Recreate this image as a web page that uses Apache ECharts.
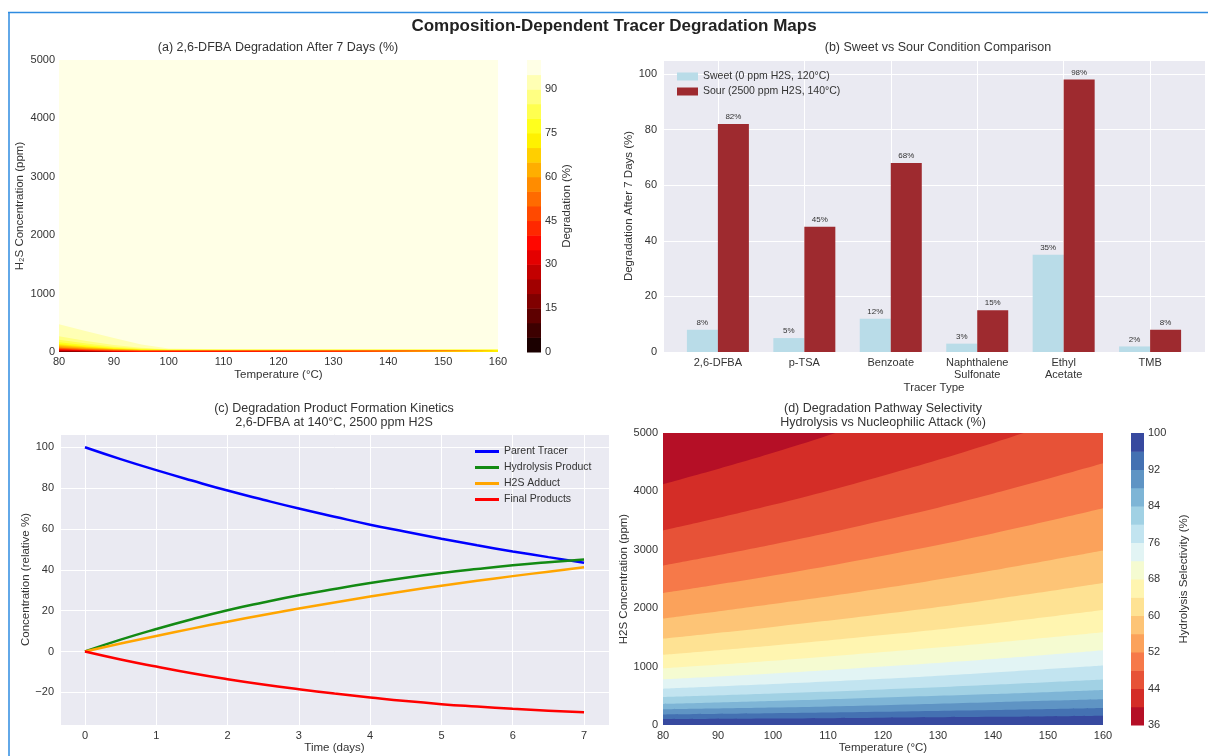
<!DOCTYPE html>
<html><head><meta charset="utf-8">
<script src="https://cdn.jsdelivr.net/npm/echarts@6/dist/echarts.min.js"></script>
<style>html,body{margin:0;padding:0;background:#fff;}#c{width:1208px;height:756px;}</style>
</head><body><div id="c"></div>
<script>
// ---------- Panel (a): 2,6-DFBA degradation contour boundaries (H2S ppm at each temperature) ----------
const aTemps = [80, 85, 90, 95, 100, 110, 160];
const aLevels = [95, 90, 85, 80, 75, 70, 65, 60, 55, 50, 45, 40, 35, 30, 25, 20];
const a95 = [476, 355, 240, 130, 60, 46, 46];
const a90 = [268, 190, 120, 72, 47, 43, 43];
const a85 = [208, 145, 92, 58, 42, 40, 40];
const a80 = [167, 115, 74, 48, 39, 38, 38];
const a75 = [137, 94, 62, 41, 36, 36, 36];
const a70 = [119, 80, 53, 36, 34, 34, 34];
const a65 = [101, 68, 46, 33, 32, 32, 32];
const a60 = [83, 56, 39, 30, 30, 30, 30];
const a55 = [71, 47, 33, 27, 27, 27, 27];
const a50 = [60, 40, 27, 22, 22, 22, 22];
const a45 = [48, 32, 21, 15, 15, 15, 15];
const a40 = [42, 27, 15, 8, 8, 8, 8];
const a35 = [30, 20, 9, 2, 0, 0, 0];
const a30 = [24, 15, 5, 0, 0, 0, 0];
const a25 = [18, 10, 1, 0, 0, 0, 0];
const a20 = [12, 5, 0, 0, 0, 0, 0];
const aBounds = [a95, a90, a85, a80, a75, a70, a65, a60, a55, a50, a45, a40, a35, a30, a25, a20];
const aColorLevels = [0,5,10,15,20,25,30,35,40,45,50,55,60,65,70,75,80,85,90,95,100];
const aColors = ['#1b0000','#3d0000','#5e0000','#800000','#a10000','#c30000','#e40000','#ff0700','#ff2800','#ff4900',
                 '#ff6b00','#ff8c00','#ffae00','#ffcf00','#fff100','#ffff1d','#ffff4f','#ffff82','#ffffb4','#ffffe6'];

// ---------- Panel (b): sweet vs sour ----------
const bCategories = ['2,6-DFBA', 'p-TSA', 'Benzoate', 'Naphthalene\nSulfonate', 'Ethyl\nAcetate', 'TMB'];
const bSweet = [8, 5, 12, 3, 35, 2];
const bSour = [82, 45, 68, 15, 98, 8];
const bNames = ['Sweet (0 ppm H2S, 120°C)', 'Sour (2500 ppm H2S, 140°C)'];

// ---------- Panel (c): kinetics ----------
const cDays = [0, 0.5, 1, 1.5, 2, 2.5, 3, 3.5, 4, 4.5, 5, 5.5, 6, 6.5, 7];
const cParent = [100, 94.2, 88.8, 83.7, 78.8, 74.3, 70, 66, 62.1, 58.6, 55.2, 52, 49, 46.2, 43.5];
const cHydrolysis = [0, 5.8, 11.0, 15.8, 20.2, 24.0, 27.5, 30.6, 33.5, 36.1, 38.4, 40.4, 42.2, 43.7, 45.0];
const cAdduct = [0, 3.9, 7.6, 11.2, 14.6, 17.9, 21.0, 24.0, 26.9, 29.6, 32.2, 34.6, 36.9, 39.1, 41.3];
const cFinal = [0, -3.9, -7.4, -10.7, -13.6, -16.2, -18.5, -20.6, -22.5, -24.3, -25.8, -27.0, -28.1, -29.0, -29.8];
const cNames = ['Parent Tracer', 'Hydrolysis Product', 'H2S Adduct', 'Final Products'];

// ---------- Panel (d): selectivity contour boundaries ----------
const dTemps = [80, 100, 120, 140, 160];
const dLevels = [40, 44, 48, 52, 56, 60, 64, 68, 72, 76, 80, 84, 88, 92, 96];
const d40 = [4120, 4660, 5280, 5980, 6760];
const d44 = [3330, 3770, 4270, 4830, 5460];
const d48 = [2730, 3090, 3500, 3960, 4480];
const d52 = [2260, 2560, 2900, 3280, 3710];
const d56 = [1820, 2070, 2340, 2650, 2990];
const d60 = [1480, 1680, 1900, 2150, 2430];
const d64 = [1200, 1360, 1540, 1740, 1970];
const d68 = [970, 1100, 1250, 1410, 1590];
const d72 = [780, 880, 1000, 1130, 1280];
const d76 = [620, 700, 790, 900, 1020];
const d80 = [480, 540, 610, 690, 780];
const d84 = [360, 410, 470, 530, 600];
const d88 = [270, 300, 340, 390, 440];
const d92 = [180, 200, 225, 255, 290];
const d96 = [100, 110, 125, 140, 160];
const dBounds = [d40, d44, d48, d52, d56, d60, d64, d68, d72, d76, d80, d84, d88, d92, d96];
const dColorLevels = [36,40,44,48,52,56,60,64,68,72,76,80,84,88,92,96,100];
const dColors = ['#b50f26','#d42d27','#e75237','#f67949','#fba25b','#fdc476','#fee293','#fff5b0',
                 '#f5fbd1','#e2f4f4','#c2e4f0','#a1d1e4','#7eb5d6','#5f94c4','#4471b2','#37499f'];

// ---------- build ----------
const FONT = '"Liberation Sans", Arial, sans-serif';
const TXT = '#333';
const BG = '#eaeaf2';
const chart = echarts.init(document.getElementById('c'), null, {renderer: 'canvas'});

function axisBase(extra) {
  return Object.assign({
    axisLine: {show: false}, axisTick: {show: false},
    nameTextStyle: {color: TXT, fontSize: 11.5, fontFamily: FONT},
    nameLocation: 'middle',
    splitLine: {show: false}
  }, extra);
}
function lab(extra) {
  return Object.assign({color: TXT, fontSize: 11, fontFamily: FONT, formatter: v => String(v)}, extra);
}
const isInt = v => Math.abs(v - Math.round(v)) < 1e-6;

function colorbarSeries(gi, levels, colors) {
  return {
    type: 'custom', xAxisIndex: gi, yAxisIndex: gi, silent: true,
    data: levels.slice(0, -1).map((lo, i) => [0, lo, levels[i + 1]]),
    encode: {x: 0, y: [1, 2]},
    renderItem: function (params, api) {
      const p0 = api.coord([0, api.value(1)]);
      const p1 = api.coord([1, api.value(2)]);
      return {type: 'rect', shape: {x: p0[0], y: p1[1], width: p1[0] - p0[0], height: p0[1] - p1[1] + 0.5},
              style: {fill: colors[params.dataIndex]}};
    }
  };
}

const series = [];
aLevels.forEach((L, k) => {
  series.push({type: 'line', xAxisIndex: 0, yAxisIndex: 0, silent: true, symbol: 'none',
    data: aTemps.map((t, i) => [t, aBounds[k][i]]),
    lineStyle: {width: 0}, areaStyle: {color: aColors[(L - 5) / 5], opacity: 1}});
});
series.push(colorbarSeries(1, aColorLevels, aColors));
const barLabel = {show: true, position: 'top', distance: 3, fontSize: 8, color: TXT, fontFamily: FONT, formatter: p => p.value[1] + '%'};
series.push({type: 'bar', name: bNames[0], xAxisIndex: 2, yAxisIndex: 2, barWidth: 31, barGap: '0%',
  data: bSweet.map((v, i) => [i, v]), itemStyle: {color: '#b9dce8'}, label: barLabel});
series.push({type: 'bar', name: bNames[1], xAxisIndex: 2, yAxisIndex: 2, barWidth: 31, barGap: '0%',
  data: bSour.map((v, i) => [i, v]), itemStyle: {color: '#9e2a2f'}, label: barLabel});
const cSets = [cParent, cHydrolysis, cAdduct, cFinal];
const cCols = ['#0000ff', '#138a13', '#ffa500', '#ff0000'];
cSets.forEach((arr, k) => {
  series.push({type: 'line', name: cNames[k], xAxisIndex: 3, yAxisIndex: 3, symbol: 'none', smooth: true,
    data: cDays.map((t, i) => [t, arr[i]]), lineStyle: {width: 2.5, color: cCols[k]}, itemStyle: {color: cCols[k]}});
});
dLevels.forEach((L, k) => {
  series.push({type: 'line', xAxisIndex: 4, yAxisIndex: 4, silent: true, symbol: 'none', smooth: 0.4,
    data: dTemps.map((t, i) => [t, dBounds[k][i]]),
    lineStyle: {width: 0}, areaStyle: {color: dColors[(L - 36) / 4], opacity: 1}});
});
series.push(colorbarSeries(5, dColorLevels, dColors));

const option = {
  animation: false,
  textStyle: {fontFamily: FONT},
  grid: [
    {left: 59, top: 60, width: 439, height: 292, show: true, backgroundColor: aColors[19], borderWidth: 0},
    {left: 527, top: 60, width: 14, height: 292, show: false},
    {left: 663, top: 60, width: 553, height: 292, show: true, backgroundColor: BG, borderWidth: 0},
    {left: 60, top: 434, width: 549, height: 291, show: true, backgroundColor: BG, borderWidth: 0},
    {left: 663, top: 433, width: 440, height: 292, show: true, backgroundColor: dColors[0], borderWidth: 0},
    {left: 1131, top: 433, width: 13, height: 292, show: false}
  ],
  xAxis: [
    axisBase({gridIndex: 0, type: 'value', min: 80, max: 160, interval: 10, name: 'Temperature (°C)', nameGap: 17,
      axisLabel: lab({margin: 4})}),
    {gridIndex: 1, type: 'value', min: 0, max: 1, show: false},
    axisBase({gridIndex: 2, type: 'value', min: -0.635, max: 5.635, splitNumber: 6, name: 'Tracer Type', nameGap: 27,
      axisLabel: lab({margin: 5, lineHeight: 12,
        formatter: v => (isInt(v) && v >= 0 && v <= 5) ? bCategories[Math.round(v)] : ''}),
      splitLine: {show: true, lineStyle: {color: '#fff', width: 1}}}),
    axisBase({gridIndex: 3, type: 'value', min: -0.35, max: 7.35, splitNumber: 8, name: 'Time (days)', nameGap: 16,
      axisLabel: lab({margin: 5, formatter: v => isInt(v) ? String(Math.round(v)) : ''}),
      splitLine: {show: true, lineStyle: {color: '#fff', width: 1}}}),
    axisBase({gridIndex: 4, type: 'value', min: 80, max: 160, interval: 10, name: 'Temperature (°C)', nameGap: 17,
      axisLabel: lab({margin: 5})}),
    {gridIndex: 5, type: 'value', min: 0, max: 1, show: false}
  ],
  yAxis: [
    axisBase({gridIndex: 0, type: 'value', min: 0, max: 5000, interval: 1000, name: 'H₂S Concentration (ppm)', nameGap: 33,
      axisLabel: lab({margin: 4})}),
    axisBase({gridIndex: 1, type: 'value', position: 'right', min: 0, max: 100, interval: 15, name: 'Degradation (%)', nameGap: 18, nameRotate: 90,
      axisLabel: lab({margin: 4, showMaxLabel: false, formatter: v => (v % 15 === 0 ? String(v) : '')})}),
    axisBase({gridIndex: 2, type: 'value', min: 0, max: 105, interval: 20, name: 'Degradation After 7 Days (%)', nameGap: 26,
      axisLabel: lab({margin: 6, formatter: v => (v % 20 === 0 ? String(v) : '')}),
      splitLine: {show: true, lineStyle: {color: '#fff', width: 1}}}),
    axisBase({gridIndex: 3, type: 'value', min: -36, max: 106.5, splitNumber: 7, name: 'Concentration (relative %)', nameGap: 25,
      axisLabel: lab({margin: 6,
        formatter: v => (isInt(v) && Math.round(v) % 20 === 0) ? String(Math.round(v)).replace('-', '\u2212') : ''}),
      splitLine: {show: true, lineStyle: {color: '#fff', width: 1}}}),
    axisBase({gridIndex: 4, type: 'value', min: 0, max: 5000, interval: 1000, name: 'H2S Concentration (ppm)', nameGap: 33,
      axisLabel: lab({margin: 5})}),
    axisBase({gridIndex: 5, type: 'value', position: 'right', min: 36, max: 100, interval: 4, name: 'Hydrolysis Selectivity (%)', nameGap: 34, nameRotate: 90,
      axisLabel: lab({margin: 4, formatter: v => ((v - 36) % 8 === 0 ? String(v) : '')})})
  ],
  legend: [
    {data: bNames, orient: 'vertical', left: 672, top: 66, itemWidth: 21, itemHeight: 8, itemGap: 4, icon: 'rect',
      textStyle: {fontSize: 10.5, color: TXT, fontFamily: FONT}},
    {data: cNames, orient: 'vertical', left: 470, top: 441, itemWidth: 24, itemHeight: 3, itemGap: 5, icon: 'rect',
      textStyle: {fontSize: 10.5, color: TXT, fontFamily: FONT, lineHeight: 10}}
  ],
  graphic: [
    {type: 'line', shape: {x1: 8, y1: 12.5, x2: 1208, y2: 12.5}, style: {stroke: '#2e8be0', lineWidth: 1.5}},
    {type: 'line', shape: {x1: 9, y1: 12, x2: 9, y2: 756}, style: {stroke: '#2e8be0', lineWidth: 1.5}},
    {type: 'text', x: 614, y: 26, style: {text: 'Composition-Dependent Tracer Degradation Maps', align: 'center', verticalAlign: 'middle',
      fontSize: 17, fontWeight: 'bold', fontFamily: FONT, fill: '#222'}},
    {type: 'text', x: 278, y: 48, style: {text: '(a) 2,6-DFBA Degradation After 7 Days (%)', align: 'center', verticalAlign: 'middle',
      fontSize: 12.5, fontFamily: FONT, fill: TXT}},
    {type: 'text', x: 938, y: 48, style: {text: '(b) Sweet vs Sour Condition Comparison', align: 'center', verticalAlign: 'middle',
      fontSize: 12.5, fontFamily: FONT, fill: TXT}},
    {type: 'text', x: 334, y: 416, style: {text: '(c) Degradation Product Formation Kinetics\n2,6-DFBA at 140°C, 2500 ppm H2S', align: 'center', verticalAlign: 'middle',
      fontSize: 12.5, lineHeight: 14, fontFamily: FONT, fill: TXT}},
    {type: 'text', x: 883, y: 416, style: {text: '(d) Degradation Pathway Selectivity\nHydrolysis vs Nucleophilic Attack (%)', align: 'center', verticalAlign: 'middle',
      fontSize: 12.5, lineHeight: 14, fontFamily: FONT, fill: TXT}}
  ],
  series: series
};
chart.setOption(option);
</script></body></html>
